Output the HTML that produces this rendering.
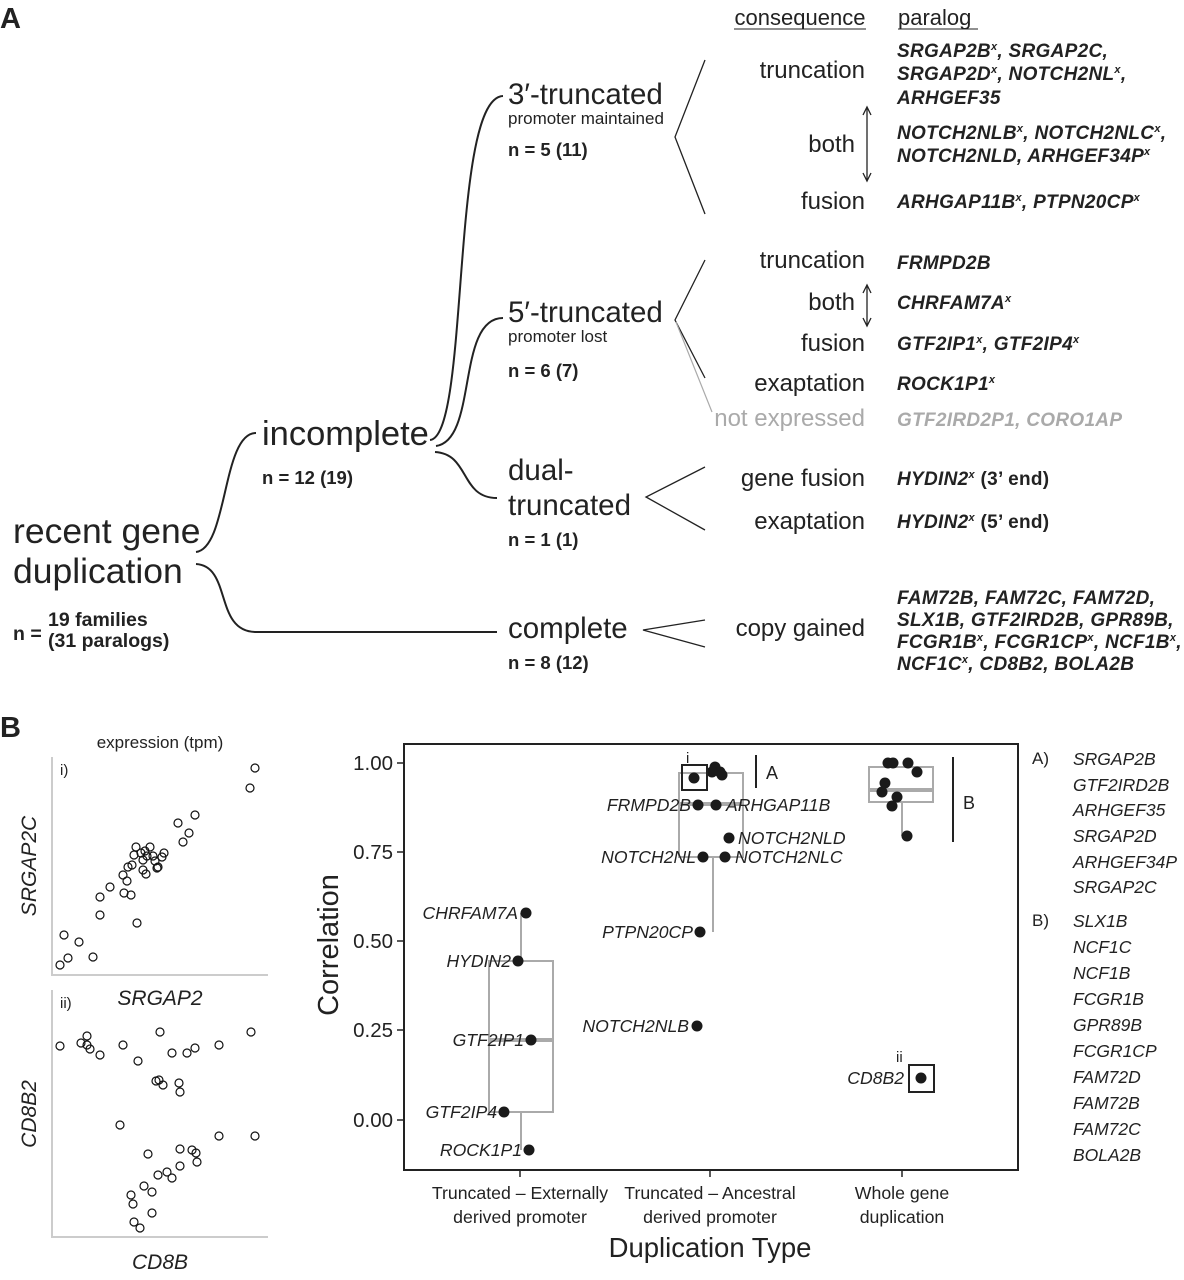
<!DOCTYPE html>
<html><head><meta charset="utf-8"><style>
html,body{margin:0;padding:0;background:#fff;}
svg{display:block;}
text{font-family:"Liberation Sans",Arial,sans-serif;fill:#222;}
.bi{font-weight:bold;font-style:italic;font-size:19px;letter-spacing:0.3px;}
.b{font-weight:bold;}
.n{font-weight:bold;font-size:18.5px;}
.c{font-size:24px;text-anchor:end;}
.it{font-style:italic;}
</style></head><body>
<svg width="1184" height="1280" viewBox="0 0 1184 1280" xmlns="http://www.w3.org/2000/svg">
<!-- Panel A -->
<text x="0" y="28" class="b" font-size="29">A</text>
<text x="800" y="25" font-size="22" text-anchor="middle">consequence</text>
<line x1="734" y1="29" x2="866" y2="29" stroke="#222" stroke-width="1"/>
<text x="898" y="25" font-size="22">paralog</text>
<line x1="898" y1="29" x2="978" y2="29" stroke="#222" stroke-width="1"/>

<g fill="none" stroke="#222" stroke-width="2">
<path d="M196,552 C228,548 222,433 256,433"/>
<path d="M196,564 C232,566 214,632 256,632 L497,632"/>
<path d="M430,440 C470,436 450,98 503,96"/>
<path d="M436,446 C478,440 456,318 503,318"/>
<path d="M435,452 C470,454 460,498 497,498"/>
</g>
<g fill="none" stroke="#222" stroke-width="1.3">
<polyline points="705,60 675,137 705,214"/>
<polyline points="705,260 675,320 705,378"/>
<polyline points="705,467 646,497 705,530"/>
<polyline points="705,620 643,630 705,647"/>
</g>
<line x1="676" y1="322" x2="712" y2="412" stroke="#aaa" stroke-width="1.2"/>
<g stroke="#222" stroke-width="1.3" fill="none">
<line x1="867" y1="108" x2="867" y2="180"/>
<polyline points="863,115 867,107 871,115"/>
<polyline points="863,173 867,181 871,173"/>
<line x1="867" y1="286" x2="867" y2="325"/>
<polyline points="863,293 867,285 871,293"/>
<polyline points="863,318 867,326 871,318"/>
</g>

<text x="13" y="543" font-size="35.5">recent gene</text>
<text x="13" y="583" font-size="35.5">duplication</text>
<text x="13" y="640" font-size="19.5" class="b">n =</text>
<text x="48" y="626" font-size="19.5" class="b">19 families</text>
<text x="48" y="647" font-size="19.5" class="b">(31 paralogs)</text>

<text x="262" y="445" font-size="34.5">incomplete</text>
<text x="262" y="484" class="n">n = 12 (19)</text>

<text x="508" y="104" font-size="29.5">3′-truncated</text>
<text x="508" y="124" font-size="17">promoter maintained</text>
<text x="508" y="156" class="n">n = 5 (11)</text>

<text x="508" y="322" font-size="29.5">5′-truncated</text>
<text x="508" y="342" font-size="17">promoter lost</text>
<text x="508" y="377" class="n">n = 6 (7)</text>

<text x="508" y="480" font-size="29.5">dual-</text>
<text x="508" y="515" font-size="29.5">truncated</text>
<text x="508" y="546" class="n">n = 1 (1)</text>

<text x="508" y="638" font-size="29.5">complete</text>
<text x="508" y="669" class="n">n = 8 (12)</text>

<text x="865" y="78" class="c">truncation</text>
<text x="855" y="152" class="c">both</text>
<text x="865" y="209" class="c">fusion</text>
<text x="865" y="268" class="c">truncation</text>
<text x="855" y="310" class="c">both</text>
<text x="865" y="351" class="c">fusion</text>
<text x="865" y="391" class="c">exaptation</text>
<text x="865" y="426" class="c" style="fill:#aaa">not expressed</text>
<text x="865" y="486" class="c">gene fusion</text>
<text x="865" y="529" class="c">exaptation</text>
<text x="865" y="636" class="c">copy gained</text>

<text x="897" y="57" class="bi">SRGAP2B<tspan font-size="11" dy="-7">x</tspan><tspan dy="7">, SRGAP2C,</tspan></text>
<text x="897" y="80" class="bi">SRGAP2D<tspan font-size="11" dy="-7">x</tspan><tspan dy="7">, NOTCH2NL</tspan><tspan font-size="11" dy="-7">x</tspan><tspan dy="7">,</tspan></text>
<text x="897" y="104" class="bi">ARHGEF35</text>
<text x="897" y="139" class="bi">NOTCH2NLB<tspan font-size="11" dy="-7">x</tspan><tspan dy="7">, NOTCH2NLC</tspan><tspan font-size="11" dy="-7">x</tspan><tspan dy="7">,</tspan></text>
<text x="897" y="162" class="bi">NOTCH2NLD, ARHGEF34P<tspan font-size="11" dy="-7">x</tspan></text>
<text x="897" y="208" class="bi">ARHGAP11B<tspan font-size="11" dy="-7">x</tspan><tspan dy="7">, PTPN20CP</tspan><tspan font-size="11" dy="-7">x</tspan></text>
<text x="897" y="269" class="bi">FRMPD2B</text>
<text x="897" y="309" class="bi">CHRFAM7A<tspan font-size="11" dy="-7">x</tspan></text>
<text x="897" y="350" class="bi">GTF2IP1<tspan font-size="11" dy="-7">x</tspan><tspan dy="7">, GTF2IP4</tspan><tspan font-size="11" dy="-7">x</tspan></text>
<text x="897" y="390" class="bi">ROCK1P1<tspan font-size="11" dy="-7">x</tspan></text>
<text x="897" y="426" class="bi" style="fill:#aaa">GTF2IRD2P1, CORO1AP</text>
<text x="897" y="485" class="bi">HYDIN2<tspan font-size="11" dy="-7">x</tspan><tspan dy="7" font-style="normal"> (3’ end)</tspan></text>
<text x="897" y="528" class="bi">HYDIN2<tspan font-size="11" dy="-7">x</tspan><tspan dy="7" font-style="normal"> (5’ end)</tspan></text>
<text x="897" y="604" class="bi">FAM72B, FAM72C, FAM72D,</text>
<text x="897" y="626" class="bi">SLX1B, GTF2IRD2B, GPR89B,</text>
<text x="897" y="648" class="bi">FCGR1B<tspan font-size="11" dy="-7">x</tspan><tspan dy="7">, FCGR1CP</tspan><tspan font-size="11" dy="-7">x</tspan><tspan dy="7">, NCF1B</tspan><tspan font-size="11" dy="-7">x</tspan><tspan dy="7">,</tspan></text>
<text x="897" y="670" class="bi">NCF1C<tspan font-size="11" dy="-7">x</tspan><tspan dy="7">, CD8B2, BOLA2B</tspan></text>

<!-- Panel B -->
<text x="0" y="737" class="b" font-size="29">B</text>
<text x="160" y="748" font-size="17" text-anchor="middle">expression (tpm)</text>
<g stroke="#ccc" stroke-width="2" fill="none">
<polyline points="52,757 52,975 268,975"/>
<polyline points="52,990 52,1237 268,1237"/>
</g>
<text x="60" y="775" font-size="15">i)</text>
<text x="60" y="1008" font-size="15">ii)</text>
<text transform="translate(36,866) rotate(-90)" font-size="21" class="it" text-anchor="middle">SRGAP2C</text>
<text x="160" y="1005" font-size="21" class="it" text-anchor="middle">SRGAP2</text>
<text transform="translate(36,1114) rotate(-90)" font-size="21" class="it" text-anchor="middle">CD8B2</text>
<text x="160" y="1269" font-size="21" class="it" text-anchor="middle">CD8B</text>

<g fill="none" stroke="#111" stroke-width="1.2">
<circle cx="255" cy="768" r="4"/><circle cx="250" cy="788" r="4"/><circle cx="195" cy="815" r="4"/><circle cx="178" cy="823" r="4"/><circle cx="189" cy="833" r="4"/><circle cx="183" cy="842" r="4"/><circle cx="136" cy="847" r="4"/><circle cx="150" cy="847" r="4"/><circle cx="145" cy="851" r="4"/><circle cx="141" cy="853" r="4"/><circle cx="134" cy="855" r="4"/><circle cx="147" cy="856" r="4"/><circle cx="153" cy="856" r="4"/><circle cx="164" cy="853" r="4"/><circle cx="162" cy="857" r="4"/><circle cx="143" cy="860" r="4"/><circle cx="155" cy="861" r="4"/><circle cx="158" cy="867" r="4"/><circle cx="157" cy="868" r="4"/><circle cx="132" cy="865" r="4"/><circle cx="128" cy="867" r="4"/><circle cx="123" cy="875" r="4"/><circle cx="127" cy="881" r="4"/><circle cx="110" cy="887" r="4"/><circle cx="143" cy="870" r="4"/><circle cx="146" cy="874" r="4"/><circle cx="100" cy="897" r="4"/><circle cx="124" cy="893" r="4"/><circle cx="131" cy="895" r="4"/><circle cx="100" cy="915" r="4"/><circle cx="137" cy="923" r="4"/><circle cx="64" cy="935" r="4"/><circle cx="79" cy="942" r="4"/><circle cx="68" cy="958" r="4"/><circle cx="93" cy="957" r="4"/><circle cx="60" cy="965" r="4"/>
<circle cx="60" cy="1046" r="4"/><circle cx="81" cy="1043" r="4"/><circle cx="87" cy="1036" r="4"/><circle cx="87" cy="1045" r="4"/><circle cx="90" cy="1049" r="4"/><circle cx="100" cy="1055" r="4"/><circle cx="123" cy="1045" r="4"/><circle cx="138" cy="1061" r="4"/><circle cx="160" cy="1032" r="4"/><circle cx="172" cy="1053" r="4"/><circle cx="187" cy="1053" r="4"/><circle cx="195" cy="1048" r="4"/><circle cx="219" cy="1045" r="4"/><circle cx="251" cy="1032" r="4"/><circle cx="156" cy="1081" r="4"/><circle cx="159" cy="1080" r="4"/><circle cx="163" cy="1085" r="4"/><circle cx="179" cy="1083" r="4"/><circle cx="180" cy="1092" r="4"/><circle cx="120" cy="1125" r="4"/><circle cx="219" cy="1136" r="4"/><circle cx="255" cy="1136" r="4"/><circle cx="148" cy="1154" r="4"/><circle cx="180" cy="1149" r="4"/><circle cx="192" cy="1150" r="4"/><circle cx="196" cy="1153" r="4"/><circle cx="197" cy="1162" r="4"/><circle cx="180" cy="1166" r="4"/><circle cx="158" cy="1175" r="4"/><circle cx="167" cy="1172" r="4"/><circle cx="172" cy="1178" r="4"/><circle cx="144" cy="1186" r="4"/><circle cx="152" cy="1192" r="4"/><circle cx="131" cy="1195" r="4"/><circle cx="133" cy="1204" r="4"/><circle cx="152" cy="1213" r="4"/><circle cx="134" cy="1222" r="4"/><circle cx="140" cy="1228" r="4"/>
</g>

<!-- boxplot -->
<rect x="404" y="744" width="614" height="426" fill="none" stroke="#222" stroke-width="2"/>
<g stroke="#222" stroke-width="1.5">
<line x1="397" y1="763" x2="404" y2="763"/><line x1="397" y1="852" x2="404" y2="852"/><line x1="397" y1="941" x2="404" y2="941"/><line x1="397" y1="1030" x2="404" y2="1030"/><line x1="397" y1="1120" x2="404" y2="1120"/>
<line x1="520" y1="1170" x2="520" y2="1177"/><line x1="710" y1="1170" x2="710" y2="1177"/><line x1="902" y1="1170" x2="902" y2="1177"/>
</g>
<g font-size="20.5" text-anchor="end">
<text x="393" y="770">1.00</text><text x="393" y="859">0.75</text><text x="393" y="948">0.50</text><text x="393" y="1037">0.25</text><text x="393" y="1127">0.00</text>
</g>
<text transform="translate(338,945) rotate(-90)" font-size="29" text-anchor="middle">Correlation</text>
<g font-size="17.7" text-anchor="middle">
<text x="520" y="1199">Truncated – Externally</text><text x="520" y="1223">derived promoter</text>
<text x="710" y="1199">Truncated – Ancestral</text><text x="710" y="1223">derived promoter</text>
<text x="902" y="1199">Whole gene</text><text x="902" y="1223">duplication</text>
</g>
<text x="710" y="1257" font-size="27.5" text-anchor="middle">Duplication Type</text>

<g stroke="#aaa" stroke-width="2" fill="none">
<rect x="489" y="961" width="64" height="151"/>
<line x1="521" y1="913" x2="521" y2="961"/><line x1="521" y1="1112" x2="521" y2="1150"/>
<rect x="679" y="773" width="64" height="84"/>
<line x1="713" y1="857" x2="713" y2="932"/>
<rect x="869" y="767" width="64" height="35"/>
<line x1="902" y1="802" x2="902" y2="836"/>
</g>
<g stroke="#aaa" stroke-width="4">
<line x1="489" y1="1040" x2="553" y2="1040"/>
<line x1="679" y1="804" x2="743" y2="804"/>
<line x1="869" y1="790" x2="933" y2="790"/>
</g>
<g fill="#1a1a1a">
<circle cx="526" cy="913" r="5.5"/><circle cx="518" cy="961" r="5.5"/><circle cx="531" cy="1040" r="5.5"/><circle cx="504" cy="1112" r="5.5"/><circle cx="529" cy="1150" r="5.5"/>
<circle cx="694" cy="778" r="5.5"/><circle cx="715" cy="767" r="5.5"/><circle cx="720" cy="772" r="5.5"/><circle cx="722" cy="775" r="5.5"/><circle cx="712" cy="772" r="5.5"/>
<circle cx="698" cy="805" r="5.5"/><circle cx="716" cy="805" r="5.5"/><circle cx="729" cy="838" r="5.5"/><circle cx="703" cy="857" r="5.5"/><circle cx="725" cy="857" r="5.5"/><circle cx="700" cy="932" r="5.5"/><circle cx="697" cy="1026" r="5.5"/>
<circle cx="888" cy="763" r="5.5"/><circle cx="893" cy="763" r="5.5"/><circle cx="908" cy="763" r="5.5"/><circle cx="917" cy="772" r="5.5"/><circle cx="885" cy="783" r="5.5"/><circle cx="882" cy="792" r="5.5"/><circle cx="897" cy="797" r="5.5"/><circle cx="892" cy="806" r="5.5"/><circle cx="907" cy="836" r="5.5"/>
<circle cx="921" cy="1078" r="5.5"/>
</g>
<g fill="none" stroke="#222" stroke-width="2">
<rect x="682" y="765" width="25" height="25"/>
<rect x="909" y="1065" width="25" height="27"/>
<line x1="756" y1="755" x2="756" y2="788"/>
<line x1="953" y1="757" x2="953" y2="842"/>
</g>
<text x="766" y="779" font-size="18">A</text>
<text x="963" y="809" font-size="18">B</text>
<text x="686" y="763" font-size="15">i</text>
<text x="896" y="1062" font-size="15">ii</text>
<g font-size="17.6" class="it" text-anchor="end">
<text x="518" y="919">CHRFAM7A</text>
<text x="511" y="967">HYDIN2</text>
<text x="524" y="1046">GTF2IP1</text>
<text x="497" y="1118">GTF2IP4</text>
<text x="522" y="1156">ROCK1P1</text>
<text x="691" y="811">FRMPD2B</text>
<text x="696" y="863">NOTCH2NL</text>
<text x="693" y="938">PTPN20CP</text>
<text x="689" y="1032">NOTCH2NLB</text>
<text x="904" y="1084">CD8B2</text>
</g>
<g font-size="17.6" class="it">
<text x="726" y="811">ARHGAP11B</text>
<text x="738" y="844">NOTCH2NLD</text>
<text x="735" y="863">NOTCH2NLC</text>
</g>

<g font-size="17">
<text x="1032" y="764">A)</text><text x="1032" y="926">B)</text>
</g>
<g font-size="17.5" class="it">
<text x="1073" y="765">SRGAP2B</text><text x="1073" y="791">GTF2IRD2B</text><text x="1073" y="816">ARHGEF35</text><text x="1073" y="842">SRGAP2D</text><text x="1073" y="868">ARHGEF34P</text><text x="1073" y="893">SRGAP2C</text>
<text x="1073" y="927">SLX1B</text><text x="1073" y="953">NCF1C</text><text x="1073" y="979">NCF1B</text><text x="1073" y="1005">FCGR1B</text><text x="1073" y="1031">GPR89B</text><text x="1073" y="1057">FCGR1CP</text><text x="1073" y="1083">FAM72D</text><text x="1073" y="1109">FAM72B</text><text x="1073" y="1135">FAM72C</text><text x="1073" y="1161">BOLA2B</text>
</g>
</svg>
</body></html>
